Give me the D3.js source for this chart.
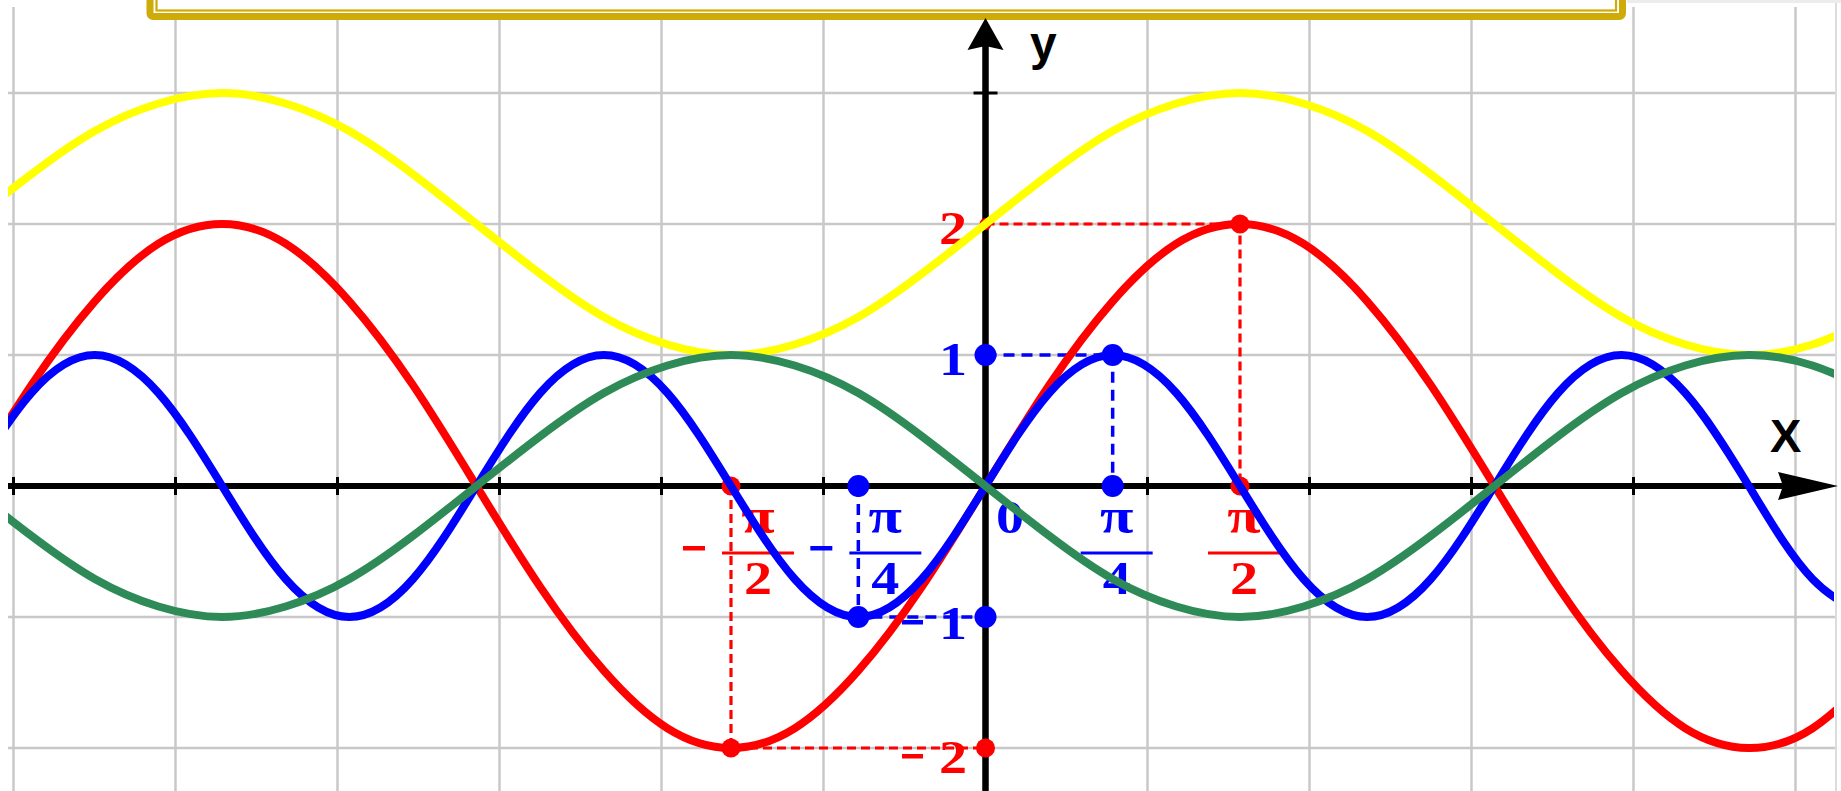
<!DOCTYPE html>
<html>
<head>
<meta charset="utf-8">
<script src="https://cdn.jsdelivr.net/npm/d3@7"></script>
<style>
  html, body { margin: 0; padding: 0; background: #ffffff; }
  svg { display: block; }
</style>
</head>
<body>
<svg id="chart" width="1841" height="791"></svg>
<script>
// ---------- data ----------
const xValues = [-6.283, -5.890, -5.498, -5.105, -4.712, -4.320, -3.927, -3.534, -3.142, -2.749, -2.356,
                 -1.963, -1.571, -1.178, -0.785, -0.393, 0, 0.393, 0.785, 1.178, 1.571, 1.963, 2.356,
                 2.749, 3.142, 3.534, 3.927, 4.320, 4.712, 5.105, 5.498];
const yellowValues = [2, 2.38, 2.71, 2.92, 3, 2.92, 2.71, 2.38, 2, 1.62, 1.29, 1.08, 1, 1.08, 1.29, 1.62,
                      2, 2.38, 2.71, 2.92, 3, 2.92, 2.71, 2.38, 2, 1.62, 1.29, 1.08, 1, 1.08, 1.29];
const redValues = [0, 0.77, 1.41, 1.85, 2, 1.85, 1.41, 0.77, 0, -0.77, -1.41, -1.85, -2, -1.85, -1.41, -0.77,
                   0, 0.77, 1.41, 1.85, 2, 1.85, 1.41, 0.77, 0, -0.77, -1.41, -1.85, -2, -1.85, -1.41];
const blueValues = [0, 0.71, 1, 0.71, 0, -0.71, -1, -0.71, 0, 0.71, 1, 0.71, 0, -0.71, -1, -0.71,
                    0, 0.71, 1, 0.71, 0, -0.71, -1, -0.71, 0, 0.71, 1, 0.71, 0, -0.71, -1];
const greenValues = [0, -0.38, -0.71, -0.92, -1, -0.92, -0.71, -0.38, 0, 0.38, 0.71, 0.92, 1, 0.92, 0.71, 0.38,
                     0, -0.38, -0.71, -0.92, -1, -0.92, -0.71, -0.38, 0, 0.38, 0.71, 0.92, 1, 0.92, 0.71];

const gridXValues = [-6, -5, -4, -3, -2, -1, 1, 2, 3, 4, 5];
const gridYValues = [-2, -1, 1, 2, 3];

const blueGuides = [[[0, 1], [0.785, 1], [0.785, 0]], [[-0.785, 0], [-0.785, -1], [0, -1]]];
const redGuides  = [[[0, 2], [1.571, 2], [1.571, 0]], [[-1.571, 0], [-1.571, -2], [0, -2]]];
const blueDots = [[0, 1], [0.785, 1], [0.785, 0], [-0.785, 0], [-0.785, -1], [0, -1]];
const redDots  = [[1.571, 2], [1.571, 0], [-1.571, 0], [-1.571, -2], [0, -2]];

const yLabels = [ {digit: "2", neg: false, v: 2, color: "#ff0000"}, {digit: "1", neg: false, v: 1, color: "#0000ff"},
                  {digit: "1", neg: true, v: -1, color: "#0000ff"}, {digit: "2", neg: true, v: -2, color: "#ff0000"} ];
const xFractions = [ {sign: "−", den: "2", v: -1.571, color: "#ff0000"},
                     {sign: "−", den: "4", v: -0.785, color: "#0000ff"},
                     {sign: "",  den: "4", v: 0.785, color: "#0000ff"},
                     {sign: "",  den: "2", v: 1.571, color: "#ff0000"} ];

// ---------- setup ----------
const svg = d3.select("#chart");
const x = d3.scaleLinear().domain([-6, 5]).range([13.5, 1795.5]);
const y = d3.scaleLinear().domain([-2, 3]).range([748, 93]);
const X0 = x(0), Y0 = y(0);
const serif = "Liberation Serif, Times New Roman, serif";
const sans = "Liberation Sans, Arial, sans-serif";

svg.append("rect").attr("width", 1841).attr("height", 791).attr("fill", "#fff");

// frame edges
svg.append("rect").attr("x", 1627).attr("y", 0).attr("width", 214).attr("height", 3).attr("fill", "#ececec");
svg.append("line").attr("x1", 1836).attr("x2", 1836).attr("y1", 3).attr("y2", 791)
  .attr("stroke", "#dcdcdc").attr("stroke-width", 2);

// ---------- grid ----------
const grid = svg.append("g").attr("stroke", "#c8c8c8").attr("stroke-width", 2.5);
grid.selectAll("line.v").data(gridXValues).join("line").attr("class", "v")
  .attr("x1", d => x(d)).attr("x2", d => x(d)).attr("y1", 7).attr("y2", 791);
grid.selectAll("line.h").data(gridYValues).join("line").attr("class", "h")
  .attr("x1", 8).attr("x2", 1835).attr("y1", d => y(d)).attr("y2", d => y(d));

// ---------- title frame ----------
svg.append("rect").attr("x", 150).attr("y", -30).attr("width", 1472.5).attr("height", 46.5)
  .attr("rx", 3).attr("fill", "#fff").attr("stroke", "#cfab08").attr("stroke-width", 7);
svg.append("rect").attr("x", 156.5).attr("y", -30).attr("width", 1459.5).attr("height", 40.5)
  .attr("fill", "none").attr("stroke", "#cfab08").attr("stroke-width", 2.2);

// ---------- axes ----------
const axes = svg.append("g");
axes.append("line").attr("x1", 8).attr("x2", 1790).attr("y1", Y0).attr("y2", Y0)
  .attr("stroke", "#000").attr("stroke-width", 6);
axes.append("path")
  .attr("d", `M${1838},${Y0} L${1778},${Y0 - 14} L${1783},${Y0} L${1778},${Y0 + 14} Z`)
  .attr("fill", "#000");
axes.selectAll("line.xt").data(gridXValues).join("line").attr("class", "xt")
  .attr("x1", d => x(d)).attr("x2", d => x(d)).attr("y1", Y0 - 9).attr("y2", Y0 + 9)
  .attr("stroke", "#000").attr("stroke-width", 3);
axes.append("line").attr("x1", X0).attr("x2", X0).attr("y1", 40).attr("y2", 791)
  .attr("stroke", "#000").attr("stroke-width", 6.5);
axes.append("path")
  .attr("d", `M${X0},${18} L${X0 - 18},${50} L${X0},${46} L${X0 + 18},${50} Z`)
  .attr("fill", "#000");
axes.append("line").attr("x1", X0 - 12).attr("x2", X0 + 12).attr("y1", y(3)).attr("y2", y(3))
  .attr("stroke", "#000").attr("stroke-width", 3);

svg.append("text").attr("x", 1030).attr("y", 60).attr("font-family", sans).attr("font-weight", "bold")
  .attr("font-size", 48).attr("fill", "#000").text("y");
svg.append("text").attr("x", 1770).attr("y", 452).attr("font-family", sans).attr("font-weight", "bold")
  .attr("font-size", 47).attr("fill", "#000").text("X");

// ---------- guides ----------
const guideLine = d3.line().x(d => x(d[0])).y(d => y(d[1]));
svg.selectAll("path.bg").data(blueGuides).join("path").attr("class", "bg")
  .attr("d", guideLine).attr("fill", "none").attr("stroke", "#0000ff")
  .attr("stroke-width", 3.5).attr("stroke-dasharray", "11 7");
svg.selectAll("path.rg").data(redGuides).join("path").attr("class", "rg")
  .attr("d", guideLine).attr("fill", "none").attr("stroke", "#ff0000")
  .attr("stroke-width", 3.2).attr("stroke-dasharray", "9 5");

// ---------- labels ----------
function label(text, px, py, color, anchor, size) {
  svg.append("text")
    .attr("transform", `translate(${px},${py}) scale(1.22,1)`)
    .attr("text-anchor", anchor)
    .attr("font-family", serif).attr("font-weight", "bold")
    .attr("font-size", size).attr("fill", color).text(text);
}
// baseline offsets of the axis numbers relative to their grid line
const yLabelOffset = {"2": 20, "1": 20, "-1": 22, "-2": 25};
yLabels.forEach(d => {
  const py = y(d.v) + yLabelOffset[(d.neg ? "-" : "") + d.digit];
  label(d.digit, 967, py, d.color, "end", 46);
  if (d.neg) {
    svg.append("rect").attr("x", 902).attr("y", py - 19).attr("width", 21).attr("height", 4.5).attr("fill", d.color);
  }
});
label("0", 996, 533, "#0000ff", "start", 46);

xFractions.forEach(d => {
  const cx = x(d.v) + (d.sign ? 27 : 4);
  label("π", cx, 533, d.color, "middle", 50);
  svg.append("rect").attr("x", cx - 36).attr("y", 551.5).attr("width", 72).attr("height", 3).attr("fill", d.color);
  label(d.den, cx, 594, d.color, "middle", 46);
  if (d.sign) {
    svg.append("rect").attr("x", x(d.v) - 48).attr("y", 546).attr("width", 22).attr("height", 4.5).attr("fill", d.color);
  }
});

// ---------- dots ----------
svg.append("circle").attr("cx", X0).attr("cy", y(2)).attr("r", 6).attr("fill", "#ff0000");
svg.selectAll("circle.rd").data(redDots).join("circle").attr("class", "rd")
  .attr("cx", d => x(d[0])).attr("cy", d => y(d[1])).attr("r", 9.5).attr("fill", "#ff0000");
svg.selectAll("circle.bd").data(blueDots).join("circle").attr("class", "bd")
  .attr("cx", d => x(d[0])).attr("cy", d => y(d[1])).attr("r", 11).attr("fill", "#0000ff");

// ---------- curves ----------
svg.append("clipPath").attr("id", "clip").append("rect")
  .attr("x", 8).attr("y", 0).attr("width", 1826).attr("height", 791);
const curve = d3.line().x((d, i) => x(xValues[i])).y(d => y(d)).curve(d3.curveNatural);
const series = [
  {values: yellowValues, color: "#ffff00"},
  {values: redValues, color: "#ff0000"},
  {values: blueValues, color: "#0000ff"},
  {values: greenValues, color: "#2e8b57"}
];
svg.append("g").attr("clip-path", "url(#clip)")
  .selectAll("path").data(series).join("path")
  .attr("d", d => curve(d.values))
  .attr("fill", "none").attr("stroke", d => d.color)
  .attr("stroke-width", 8).attr("stroke-linejoin", "round");
</script>
</body>
</html>
